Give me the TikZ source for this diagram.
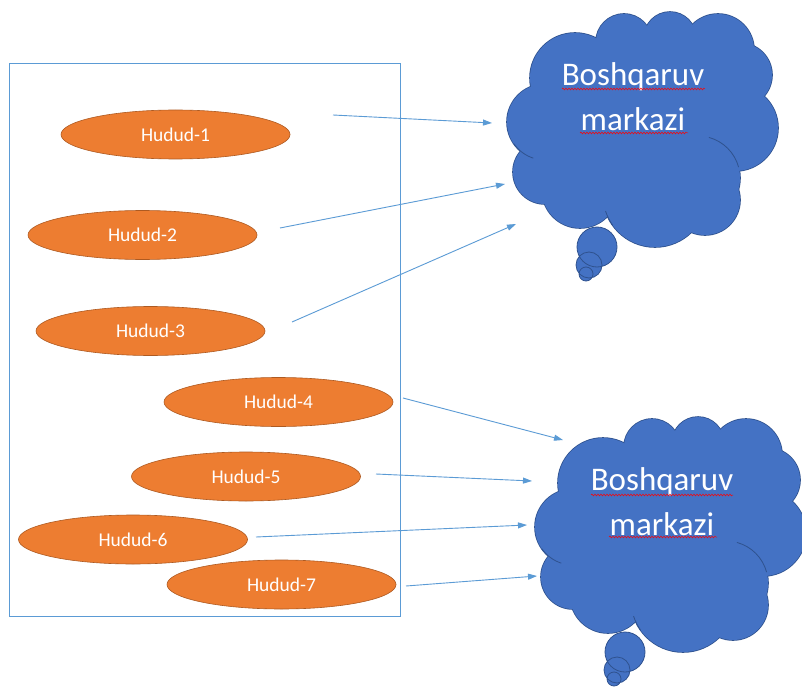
\documentclass[tikz,border=0pt]{standalone}
\usepackage{fontspec}
\setmainfont{Carlito}
\usetikzlibrary{shapes.geometric,arrows.meta,decorations.pathmorphing}
\definecolor{orng}{HTML}{ED7D31}
\definecolor{orngd}{HTML}{AE5A21}
\definecolor{cblue}{HTML}{4472C4}
\definecolor{cblued}{HTML}{2F528F}
\definecolor{lblue}{HTML}{5B9BD5}
\tikzset{
  hudud/.style={ellipse, fill=orng, draw=orngd, line width=0.6pt, minimum width=229pt, minimum height=49pt, inner sep=0pt, text=white, font=\fontsize{19.5}{22}\selectfont},
  ctext/.style={text=white, font=\fontsize{33}{36}\selectfont, inner sep=0pt},
  arr/.style={draw=lblue, line width=0.9pt, -{Triangle[length=9pt,width=6pt]}},
  squig/.style={draw=red, line width=0.5pt, decorate, decoration={snake, amplitude=0.9pt, segment length=3pt}},
  innerarc/.style={draw=cblued, line width=0.8pt}
}
% cloud body: list of puffs (x,y,r) in the top cloud's frame
\newcommand\puffs{545/122/38, 575/78/45, 624/42/28, 670/38/26, 718/50/36, 740/75/32, 735/128/43, 698/178/42, 705/200/35, 655/195/52, 580/190/38, 545/172/32}
\newcommand\drawcloudbody{%
  \foreach \x/\y/\r in \puffs {\draw[cblued, line width=1.6pt] (\x,\y) circle[radius=\r];}
  \foreach \x/\y/\r in \puffs {\fill[cblue] (\x,\y) circle[radius=\r];}
  \fill[cblue] (545,122) -- (575,78) -- (624,42) -- (670,38) -- (718,50) -- (740,75) -- (735,128) -- (705,200) -- (655,195) -- (580,190) -- (545,172) -- cycle;
  % inner arcs like the original shape
  \draw[innerarc] (545,122) ++(145:38) arc[start angle=145, end angle=108, radius=38];
  \draw[innerarc] (698,178) ++(285:42) arc[start angle=285, end angle=345, radius=42];
  \draw[innerarc] (655,195) ++(145:52) arc[start angle=145, end angle=162, radius=52];
  % thought-bubble tail
  \fill[cblue] (597,247) circle[radius=20] (589,265) circle[radius=13] (586,274) circle[radius=7];
  \draw[cblued, line width=0.8pt] (597,247) circle[radius=20] (589,265) circle[radius=13] (586,274) circle[radius=7];
}
\begin{document}
\begin{tikzpicture}[x=1pt,y=-1pt]
\useasboundingbox (0,0) rectangle (802,687);
\fill[white] (0,0) rectangle (802,687);
% frame
\node[draw=lblue, line width=0.9pt, minimum width=391pt, minimum height=553pt, inner sep=0pt] (frame) at (204.5,339.5) {};
% regions
\node[hudud] (h1) at (175.5,134.5) {Hudud-1};
\node[hudud] (h2) at (142.5,235) {Hudud-2};
\node[hudud] (h3) at (150.5,331) {Hudud-3};
\node[hudud] (h4) at (278.5,402) {Hudud-4};
\node[hudud] (h5) at (246,476.5) {Hudud-5};
\node[hudud] (h6) at (133,539.5) {Hudud-6};
\node[hudud] (h7) at (281.5,584.5) {Hudud-7};
% top cloud
\begin{scope}
  \drawcloudbody
\end{scope}
\node[ctext] (c1a) at (633,77) {Boshqaruv};
\node[ctext] (c1b) at (633,119) {markazi};
\draw[squig] (562,89) -- (705,89);
\draw[squig] (580,133) -- (688,133);
% bottom cloud
\begin{scope}[shift={(28,405)}]
  \drawcloudbody
\end{scope}
\node[ctext] (c2a) at (662,482) {Boshqaruv};
\node[ctext] (c2b) at (662,524) {markazi};
\draw[squig] (591,495) -- (733,495);
\draw[squig] (609,537) -- (717,537);
% arrow end points
\coordinate (s1) at (333,115); \coordinate (e1) at (492,123);
\coordinate (s2) at (280,228); \coordinate (e2) at (505,184);
\coordinate (s3) at (292,322); \coordinate (e3) at (516,224);
\coordinate (s4) at (403,398); \coordinate (e4) at (563,440);
\coordinate (s5) at (376,474); \coordinate (e5) at (532,481);
\coordinate (s6) at (256,537); \coordinate (e6) at (527,525);
\coordinate (s7) at (406,586); \coordinate (e7) at (537,576);
\foreach \i in {1,...,7} \draw[arr] (s\i) -- (e\i);
\end{tikzpicture}
\end{document}
